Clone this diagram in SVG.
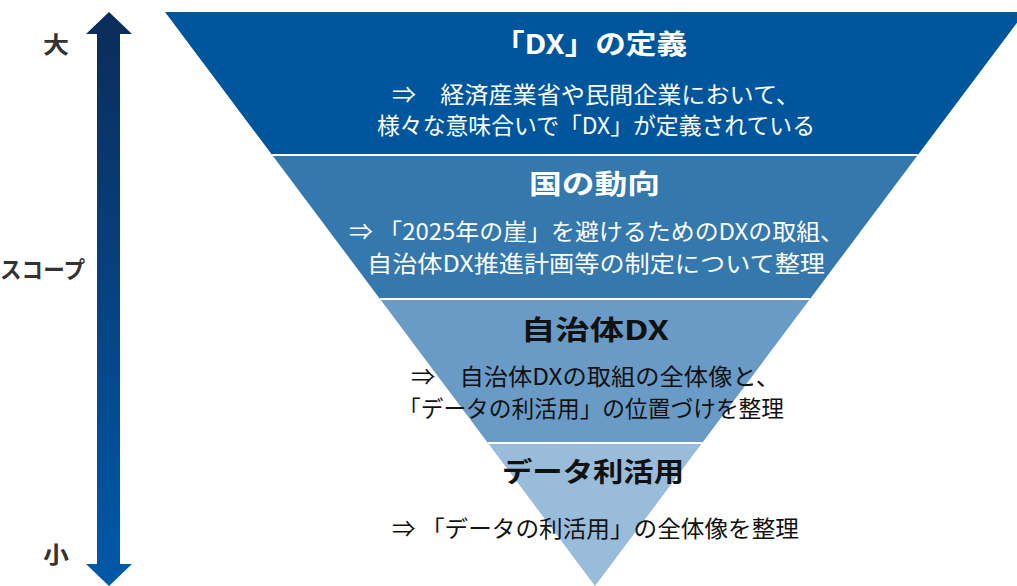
<svg xmlns="http://www.w3.org/2000/svg" width="1017" height="586" viewBox="0 0 1017 586">
<defs>
<linearGradient id="arrowGrad" x1="0" y1="0" x2="0" y2="1">
<stop offset="0" stop-color="#0b2c5a"/>
<stop offset="1" stop-color="#0059a9"/>
</linearGradient>
<style>
.t{font-family:"Noto Sans CJK JP","Noto Sans",sans-serif;font-weight:700;font-size:27px;}
.b{font-family:"Noto Sans CJK JP","Noto Sans",sans-serif;font-weight:400;font-size:23px;}
.lab{font-family:"Noto Sans CJK JP","Noto Sans",sans-serif;font-weight:700;font-size:23px;fill:#333333;}
.w{fill:#ffffff;}
.k{fill:#111111;}
.sep{stroke:#ffffff;stroke-width:2;}
</style>
</defs>
<rect width="1017" height="586" fill="#ffffff"/>

<g id="scope-arrow">
<polygon points="109,12 132,34 120,34 120,564 132,564 109,586 86,564 97,564 97,34 86,34" fill="url(#arrowGrad)"/>
</g>
<g id="scope-labels">
<text class="lab" x="43" y="53" textLength="26" lengthAdjust="spacingAndGlyphs">大</text>
<text class="lab" x="0" y="278" textLength="85" lengthAdjust="spacingAndGlyphs">スコープ</text>
<text class="lab" x="43" y="563" textLength="26" lengthAdjust="spacingAndGlyphs">小</text>
</g>

<g id="band-dx-definition">
<polygon points="165,12 1025,12 917.8,155 272.2,155" fill="#00569c"/>
<text class="t w" x="494" y="54" textLength="193" lengthAdjust="spacingAndGlyphs">「DX」の定義</text>
<text class="b w" x="392" y="103" textLength="408" lengthAdjust="spacingAndGlyphs">⇒　経済産業省や民間企業において、</text>
<text class="b w" x="377" y="134" textLength="438" lengthAdjust="spacingAndGlyphs">様々な意味合いで「DX」が定義されている</text>
</g>

<g id="band-national-trend">
<polygon points="272.2,155 917.8,155 810,299 380,299" fill="#3478ae"/>
<text class="t w" x="529" y="194" textLength="131" lengthAdjust="spacingAndGlyphs">国の動向</text>
<text class="b w" x="349" y="240" textLength="495" lengthAdjust="spacingAndGlyphs" xml:space="preserve">⇒ 「2025年の崖」を避けるためのDXの取組、</text>
<text class="b w" x="367" y="272" textLength="458" lengthAdjust="spacingAndGlyphs">自治体DX推進計画等の制定について整理</text>
</g>

<g id="band-municipal-dx">
<polygon points="380,299 810,299 702.1,443 487.9,443" fill="#6a9bc6"/>
<text class="t k" x="521" y="340" textLength="148" lengthAdjust="spacingAndGlyphs">自治体DX</text>
<text class="b k" x="411" y="385" textLength="369" lengthAdjust="spacingAndGlyphs">⇒　自治体DXの取組の全体像と、</text>
<text class="b k" x="398" y="417" textLength="386" lengthAdjust="spacingAndGlyphs">「データの利活用」の位置づけを整理</text>
</g>

<g id="band-data-use">
<polygon points="487.9,443 702.1,443 595,586" fill="#9abcdb"/>
<text class="t k" x="502" y="482" textLength="182" lengthAdjust="spacingAndGlyphs">データ利活用</text>
<text class="b k" x="392" y="537" textLength="407" lengthAdjust="spacingAndGlyphs" xml:space="preserve">⇒ 「データの利活用」の全体像を整理</text>
</g>

<g id="connectors">
<line class="sep" x1="272.2" y1="155" x2="917.8" y2="155"/>
<line class="sep" x1="380" y1="299" x2="810" y2="299"/>
<line class="sep" x1="487.9" y1="443" x2="702.1" y2="443"/>
</g>
</svg>
